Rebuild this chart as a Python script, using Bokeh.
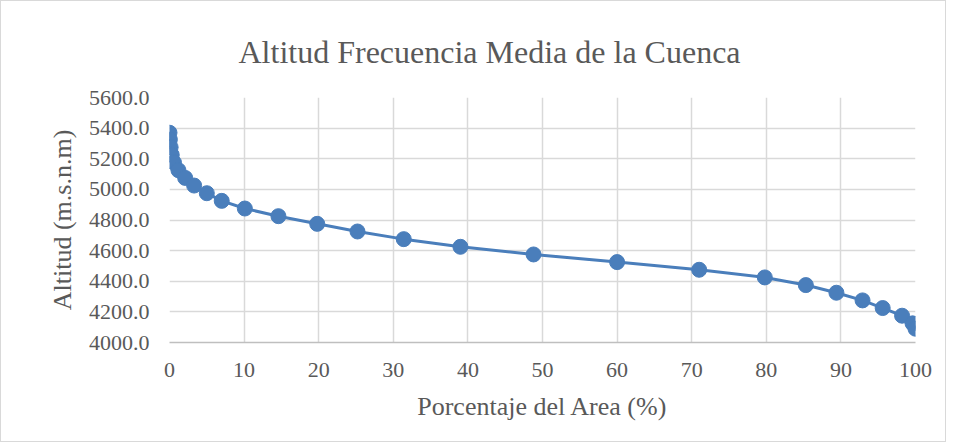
from bokeh.plotting import figure
from bokeh.models import Title, FixedTicker, Range1d, NumeralTickFormatter
from bokeh.embed import file_html
from bokeh.resources import INLINE

porcentaje = [0.0, 0.05, 0.15, 0.3, 0.6, 1.2, 2.1, 3.3, 5.0, 7.0, 10.1, 14.6, 19.8,
              25.2, 31.4, 39.0, 48.8, 60.0, 71.0, 79.8, 85.3, 89.4, 92.9, 95.6,
              98.2, 99.6, 100.0]
altitud = [5370, 5325, 5275, 5225, 5175, 5125, 5075, 5025, 4975, 4925, 4875, 4825,
           4775, 4725, 4675, 4625, 4575, 4525, 4475, 4425, 4375, 4325, 4275, 4225,
           4175, 4125, 4090]
x_ticks = [0, 10, 20, 30, 40, 50, 60, 70, 80, 90, 100]
y_ticks = [4000, 4200, 4400, 4600, 4800, 5000, 5200, 5400, 5600]

FONT = "Liberation Serif"
TXT = "#595959"
GRID = "#d9d9d9"
BLUE = "#4a7ebb"

p = figure(width=946, height=442, output_backend="svg", toolbar_location=None,
           x_range=Range1d(0, 100), y_range=Range1d(4000, 5600),
           min_border_left=168, min_border_right=32, min_border_top=96,
           min_border_bottom=101)
p.styles = {"border": "1px solid #d9d9d9"}
p.outline_line_color = None

t = Title(text="Altitud Frecuencia Media de la Cuenca", align="left",
          text_font=FONT, text_font_size="32px", text_font_style="normal",
          text_color=TXT, offset=69, standoff=56)
p.add_layout(t, "above")

p.line(porcentaje, altitud, line_color=BLUE, line_width=3)
p.scatter(porcentaje, altitud, size=15, fill_color=BLUE, line_color=BLUE)

p.xaxis.ticker = FixedTicker(ticks=x_ticks)
p.yaxis.ticker = FixedTicker(ticks=y_ticks)
p.yaxis.formatter = NumeralTickFormatter(format="0.0")

for ax in (p.xaxis[0], p.yaxis[0]):
    ax.major_label_text_font = FONT
    ax.major_label_text_font_size = "22px"
    ax.major_label_text_color = TXT
    ax.axis_label_text_font = FONT
    ax.axis_label_text_font_size = "26px"
    ax.axis_label_text_font_style = "normal"
    ax.axis_label_text_color = TXT
    ax.major_tick_line_color = None
    ax.minor_tick_line_color = None

p.xaxis.axis_label = "Porcentaje del Area (%)"
p.yaxis.axis_label = "Altitud (m.s.n.m)"
p.xaxis.axis_line_color = "#bfbfbf"
p.xaxis.axis_line_width = 1.5
p.yaxis.axis_line_color = None
p.xaxis.major_label_standoff = 14
p.yaxis.major_label_standoff = 14
p.xaxis.axis_label_standoff = 12
p.yaxis.axis_label_standoff = 9

p.xgrid.ticker = FixedTicker(ticks=x_ticks)
p.ygrid.ticker = FixedTicker(ticks=y_ticks)
p.xgrid.grid_line_color = GRID
p.ygrid.grid_line_color = GRID
p.xgrid.grid_line_width = 1.5
p.ygrid.grid_line_width = 1.5

open("out.html", "w").write(file_html(p, INLINE))
